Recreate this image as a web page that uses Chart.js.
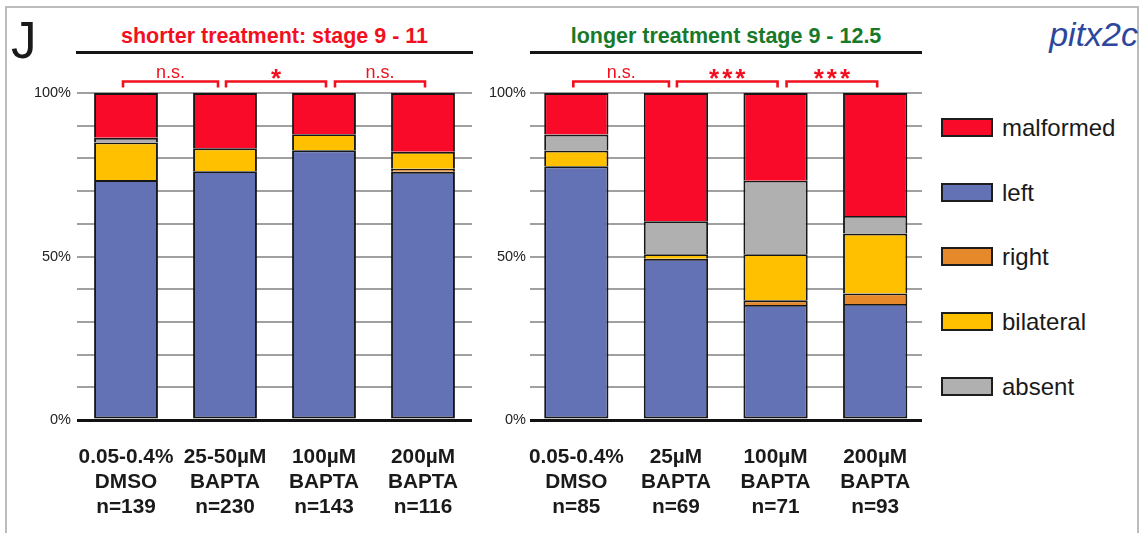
<!DOCTYPE html>
<html>
<head>
<meta charset="utf-8">
<title>pitx2c expression after BAPTA treatment</title>
<script src="https://cdn.jsdelivr.net/npm/chart.js@4.4.1/dist/chart.umd.min.js"></script>
<style>
  html, body { margin: 0; padding: 0; background: #fff; }
  body { width: 1145px; height: 533px; overflow: hidden; position: relative;
         font-family: "Liberation Sans", Arial, Helvetica, sans-serif; color: #1a1a1a; }
  #frame { position: absolute; left: 5px; top: 6px; width: 1134px; height: 600px;
           border: 2px solid #bcbcbc; box-sizing: border-box; }
  .wrap { position: absolute; top: 0; height: 533px; }
  #wrapShort { left: 0; width: 480px; }
  #wrapLong { left: 480px; width: 460px; }
  .txt { position: absolute; white-space: nowrap; line-height: 1; }
  #panelLetter { left: 11px; top: 15px; font-size: 51px; color: #1a1a1a; }
  #gene { right: 7px; top: 17px; font-size: 34px; font-style: italic; color: #2c479c; }
  .title { font-size: 21.5px; font-weight: bold; text-align: center; top: 26px; }
  #titleShort { left: 77px; width: 395px; color: #f2101e; }
  #titleLong { left: 530px; width: 392px; color: #18792a; }
  .rule { position: absolute; height: 3px; background: #151515; top: 51px; }
  #ruleShort { left: 76px; width: 397px; }
  #ruleLong { left: 530px; width: 392px; }
  #legend { position: absolute; left: 941px; top: 118px; }
  .item { position: absolute; left: 0; height: 19px; }
  .swatch { position: absolute; left: 0; top: 0; width: 52px; height: 19px;
            box-sizing: border-box; border: 2px solid #1d1d1d; }
  .label { position: absolute; left: 61px; top: -2px; font-size: 24px; line-height: 1; color: #1a1a1a; }
</style>
</head>
<body>
<div id="frame"></div>
<div class="txt" id="panelLetter">J</div>
<div class="txt" id="gene">pitx2c</div>
<div class="txt title" id="titleShort">shorter treatment: stage 9 - 11</div>
<div class="txt title" id="titleLong">longer treatment stage 9 - 12.5</div>
<div class="rule" id="ruleShort"></div>
<div class="rule" id="ruleLong"></div>
<div class="wrap" id="wrapShort"><canvas id="chartShort"></canvas></div>
<div class="wrap" id="wrapLong"><canvas id="chartLong"></canvas></div>
<div id="legend"></div>

<script>
// ---- categories (three label lines per bar) ----
const shortCategories = [
  ['0.05-0.4%', 'DMSO', 'n=139'],
  ['25-50µM', 'BAPTA', 'n=230'],
  ['100µM', 'BAPTA', 'n=143'],
  ['200µM', 'BAPTA', 'n=116']
];
const longCategories = [
  ['0.05-0.4%', 'DMSO', 'n=85'],
  ['25µM', 'BAPTA', 'n=69'],
  ['100µM', 'BAPTA', 'n=71'],
  ['200µM', 'BAPTA', 'n=93']
];

// ---- phenotype percentages, shorter treatment (stage 9 - 11) ----
const shortLeft      = [73.4, 76.1, 82.5, 75.9];
const shortRight     = [0, 0, 0, 0.9];
const shortBilateral = [11.5, 7.0, 4.9, 5.2];
const shortAbsent    = [1.4, 0, 0, 0];
const shortMalformed = [13.7, 16.9, 12.6, 18.0];

// ---- phenotype percentages, longer treatment (stage 9 - 12.5) ----
const longLeft      = [77.6, 49.3, 35.2, 35.5];
const longRight     = [0, 0, 1.4, 3.2];
const longBilateral = [4.8, 1.4, 14.1, 18.3];
const longAbsent    = [4.9, 10.1, 22.5, 5.4];
const longMalformed = [12.7, 39.2, 26.8, 37.6];

// ---- significance between neighbouring groups ----
const shortSignificance = ['n.s.', '*', 'n.s.'];
const longSignificance  = ['n.s.', '***', '***'];

// ---- axis ticks ----
const yTickStep = 10;
const yLabelEvery = 50;

// ---- series names (stack order bottom to top) and colours ----
const seriesNames  = ['left', 'right', 'bilateral', 'absent', 'malformed'];
const seriesColors = ['#6272b5', '#e5892b', '#ffc000', '#b0b0b0', '#f90a28'];
const legendOrder  = ['malformed', 'left', 'right', 'bilateral', 'absent'];

const FONT = '"Liberation Sans", Arial, Helvetica, sans-serif';
const EDGE = '#161616';

function makeDatasets(series) {
  return series.map((values, s) => ({
    label: seriesNames[s],
    data: values.map((v, i) => ({ x: i, y: v })),
    backgroundColor: seriesColors[s],
    borderColor: EDGE,
    borderSkipped: false,
    borderWidth: { top: 1.9, left: 1.9, right: 1.9, bottom: s === 0 ? 1.9 : 0 },
    barPercentage: 0.645,
    categoryPercentage: 1
  }));
}

// brackets above neighbouring bars, with their significance mark
const bracketPlugin = {
  id: 'brackets',
  afterDraw(chart, args, opts) {
    const x = chart.scales.x;
    const ctx = chart.ctx;
    const inset = [[-3, -7], [1, 2], [11, 2]];
    const yTop = 81.5, yTick = 87.5;
    ctx.save();
    ctx.strokeStyle = '#f2101e';
    ctx.fillStyle = '#f2101e';
    ctx.lineWidth = 2.6;
    ctx.lineJoin = 'miter';
    opts.marks.forEach((mark, i) => {
      const x0 = x.getPixelForValue(i) + inset[i][0];
      const x1 = x.getPixelForValue(i + 1) + inset[i][1];
      ctx.beginPath();
      ctx.moveTo(x0, yTick);
      ctx.lineTo(x0, yTop);
      ctx.lineTo(x1, yTop);
      ctx.lineTo(x1, yTick);
      ctx.stroke();
      const mid = (x0 + x1) / 2;
      ctx.textAlign = 'center';
      ctx.textBaseline = 'alphabetic';
      if (mark.startsWith('*')) {
        ctx.font = 'bold 26px ' + FONT;
        ctx.letterSpacing = '3px';
        ctx.fillText(mark, mid + 1.5, 87);
        ctx.letterSpacing = '0px';
      } else {
        ctx.font = '18px ' + FONT;
        ctx.fillText(mark, mid, 78);
      }
    });
    ctx.restore();
  }
};

function makeChart(id, categories, series, marks, geom) {
  return new Chart(document.getElementById(id), {
    type: 'bar',
    data: { datasets: makeDatasets(series) },
    plugins: [bracketPlugin],
    options: {
      responsive: true,
      maintainAspectRatio: false,
      animation: false,
      layout: { padding: { left: 0, right: geom.padRight, top: 93, bottom: 0 } },
      plugins: {
        legend: { display: false },
        tooltip: { enabled: false },
        brackets: { marks: marks }
      },
      scales: {
        x: {
          type: 'linear',
          stacked: true,
          offset: false,
          min: geom.xMin,
          max: geom.xMax,
          grid: { display: false },
          border: { display: false },
          afterBuildTicks: s => { s.ticks = categories.map((_, i) => ({ value: i })); },
          afterFit: s => { s.height = 113; },
          ticks: {
            autoSkip: false,
            maxRotation: 0,
            minRotation: 0,
            padding: 17,
            color: '#1a1a1a',
            font: { family: FONT, size: 20.8, weight: 'bold', lineHeight: 1.2 },
            callback: v => categories[v]
          }
        },
        y: {
          stacked: true,
          min: 0,
          max: 100,
          afterFit: s => { s.width = geom.axisWidth; },
          border: { display: false },
          grid: {
            drawTicks: false,
            color: c => (c.tick.value === 0 ? '#111' : '#a0a0a0'),
            lineWidth: c => (c.tick.value === 0 ? 3 : 2)
          },
          ticks: {
            stepSize: yTickStep,
            padding: geom.tickPad,
            color: '#222',
            font: { family: FONT, size: 14.5 },
            callback: v => (v % yLabelEvery === 0 ? v + '%' : '')
          }
        }
      }
    }
  });
}

makeChart('chartShort', shortCategories,
  [shortLeft, shortRight, shortBilateral, shortAbsent, shortMalformed],
  shortSignificance,
  { axisWidth: 77, padRight: 8, xMin: -0.495, xMax: 3.495, tickPad: 6 });

makeChart('chartLong', longCategories,
  [longLeft, longRight, longBilateral, longAbsent, longMalformed],
  longSignificance,
  { axisWidth: 50, padRight: 18, xMin: -0.465, xMax: 3.47, tickPad: 4 });

// legend built from the series definitions
const legend = document.getElementById('legend');
legendOrder.forEach((name, r) => {
  const s = seriesNames.indexOf(name);
  const item = document.createElement('div');
  item.className = 'item';
  item.style.top = (r * 64.7) + 'px';
  const sw = document.createElement('div');
  sw.className = 'swatch';
  sw.style.background = seriesColors[s];
  const lb = document.createElement('div');
  lb.className = 'label';
  lb.textContent = name;
  item.appendChild(sw);
  item.appendChild(lb);
  legend.appendChild(item);
});
</script>
</body>
</html>
